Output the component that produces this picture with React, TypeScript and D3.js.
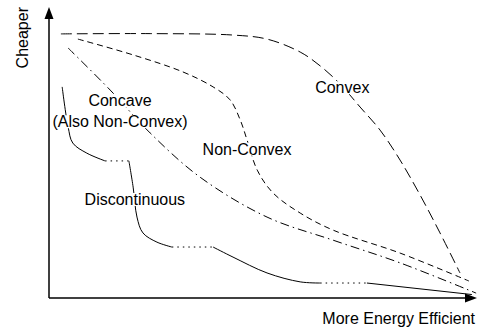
import React, { useEffect, useRef } from 'react';
import * as d3 from 'd3';

// curves, in arbitrary units (0-100 on both axes)
const convexX = [2.8, 23.8, 43.3, 51.3, 59.1, 63.8, 68.5, 73.2, 77.9, 82.6, 87.3, 92.0, 96.7];
const convexY = [91.7, 91.8, 91.3, 89.9, 85.4, 80.6, 74.3, 66.3, 58.3, 47.9, 35.8, 22.6, 8.7];

const nonConvexX = [6.8, 19.8, 31.5, 38.6, 42.6, 45.0, 46.6, 49.0, 52.7, 59.1, 66.8, 82.6, 98.8];
const nonConvexY = [89.9, 84.4, 78.5, 73.3, 68.8, 61.8, 54.9, 44.4, 36.5, 29.5, 23.6, 15.6, 5.9];

const concaveX = [4.5, 14.4, 23.8, 35.5, 51.3, 66.8, 82.6, 100.5];
const concaveY = [86.8, 72.2, 57.3, 42.0, 28.1, 20.1, 12.2, 1.7];

// discontinuous: solid pieces, joined by dotted gaps
const discPieces: [number, number][][] = [
  [[3.1, 73.3], [4.5, 59.4], [5.6, 53.8], [8.9, 50.3], [13.2, 47.6]],
  [[18.8, 47.6], [19.8, 38.5], [20.7, 28.1], [22.1, 22.6], [25.4, 19.4], [28.9, 17.7]],
  [[38.6, 17.7], [43.3, 14.2], [51.3, 8.7], [59.1, 5.6], [63.8, 5.2]],
  [[74.8, 5.2], [99.5, 1.2]],
];

const labels = [
  { text: 'Convex', x: 69, y: 73 },
  { text: 'Concave', x: 16.7, y: 68.5 },
  { text: '(Also Non-Convex)', x: 16.7, y: 61.2 },
  { text: 'Non-Convex', x: 46.6, y: 51.7 },
  { text: 'Discontinuous', x: 20.2, y: 34.2 },
];

const xTitle = 'More Energy Efficient';
const yTitle = 'Cheaper';

const W = 483;
const H = 328;
const font = '"Liberation Sans", Arial, sans-serif';
const fs = 16;

export default function App() {
  const svgRef = useRef<SVGSVGElement>(null);

  useEffect(() => {
    const svg = d3.select(svgRef.current);
    svg.selectAll('*').remove();

    const x = d3.scaleLinear().domain([0, 100]).range([49, 474]);
    const y = d3.scaleLinear().domain([0, 100]).range([298, 10]);

    const line = d3.line<[number, number]>()
      .x(d => x(d[0]))
      .y(d => y(d[1]))
      .curve(d3.curveCatmullRom.alpha(0.5));

    const zip = (xs: number[], ys: number[]) => xs.map((v, i) => [v, ys[i]] as [number, number]);

    const g = svg.append('g');

    const curve = (pts: [number, number][], dash: string | null) => {
      g.append('path')
        .attr('d', line(pts))
        .attr('fill', 'none')
        .attr('stroke', '#000')
        .attr('stroke-width', 1)
        .attr('stroke-dasharray', dash);
    };

    curve(zip(convexX, convexY), '11,5');
    curve(zip(nonConvexX, nonConvexY), '6,4');
    curve(zip(concaveX, concaveY), '9,4,1.5,4');

    discPieces.forEach((p, i) => {
      curve(p, null);
      const next = discPieces[i + 1];
      if (next) {
        const a = p[p.length - 1];
        const b = next[0];
        g.append('line')
          .attr('x1', x(a[0])).attr('y1', y(a[1]))
          .attr('x2', x(b[0])).attr('y2', y(b[1]))
          .attr('stroke', '#000')
          .attr('stroke-width', 1)
          .attr('stroke-dasharray', '1.5,4');
      }
    });

    // axes with arrowheads
    const x0 = x(0), y0 = y(0);
    svg.append('line')
      .attr('x1', x0).attr('y1', y0).attr('x2', x0).attr('y2', 16)
      .attr('stroke', '#000').attr('stroke-width', 1.5);
    svg.append('line')
      .attr('x1', x0).attr('y1', y0).attr('x2', 468).attr('y2', y0)
      .attr('stroke', '#000').attr('stroke-width', 1.5);
    svg.append('path')
      .attr('d', `M${x0},7 L${x0 - 4.5},19 L${x0 + 4.5},19 Z`)
      .attr('fill', '#000');
    svg.append('path')
      .attr('d', `M477,${y0} L465,${y0 - 4.5} L465,${y0 + 4.5} Z`)
      .attr('fill', '#000');

    // curve labels, on white so the curves break behind them
    labels.forEach(l => {
      const t = svg.append('text')
        .attr('x', x(l.x))
        .attr('y', y(l.y))
        .attr('text-anchor', 'middle')
        .attr('dominant-baseline', 'central')
        .attr('font-family', font)
        .attr('font-size', fs)
        .attr('fill', '#000')
        .text(l.text);
      const bb = (t.node() as SVGTextElement).getBBox();
      svg.insert('rect', () => t.node())
        .attr('x', bb.x - 1).attr('y', bb.y + 2)
        .attr('width', bb.width + 2).attr('height', bb.height - 4)
        .attr('fill', '#fff');
    });

    svg.append('text')
      .attr('x', 475).attr('y', 324)
      .attr('text-anchor', 'end')
      .attr('font-family', font).attr('font-size', fs)
      .text(xTitle);

    svg.append('text')
      .attr('transform', 'translate(28,7) rotate(-90)')
      .attr('text-anchor', 'end')
      .attr('font-family', font).attr('font-size', fs)
      .text(yTitle);
  }, []);

  return (
    <div style={{ position: 'absolute', left: 0, top: 0, width: W, height: H, background: '#fff' }}>
      <svg ref={svgRef} width={W} height={H} style={{ display: 'block' }} />
    </div>
  );
}
